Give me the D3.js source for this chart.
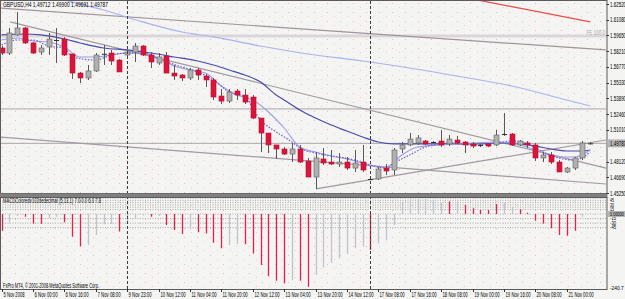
<!DOCTYPE html>
<html lang="en">
<head>
<meta charset="UTF-8">
<title>GBPUSD,H4</title>
<script src="https://d3js.org/d3.v7.min.js"></script>
<style>
  body { margin: 0; background: #f4f4f2; }
  svg { display: block; font-family: "Liberation Sans", "DejaVu Sans", sans-serif; }
</style>
</head>
<body>
<svg width="625" height="299"></svg>
<script>
// ---- data ----
const candleOpen  = [1.5850,1.5804,1.5969,1.6033,1.5896,1.5813,1.5859,1.5923,1.5932,1.5795,1.5621,1.5576,1.5640,1.5790,1.5804,1.5740,1.5786,1.5813,1.5868,1.5786,1.5713,1.5777,1.5621,1.5603,1.5576,1.5649,1.5594,1.5558,1.5411,1.5365,1.5457,1.5420,1.5402,1.5210,1.5073,1.4964,1.4927,1.4881,1.4927,1.4817,1.4671,1.4836,1.4808,1.4790,1.4808,1.4753,1.4808,1.4653,1.4653,1.4753,1.4735,1.4927,1.4964,1.4982,1.5000,1.4991,1.5000,1.4973,1.5009,1.4991,1.4973,1.4964,1.4973,1.4964,1.5064,1.5064,1.4964,1.4982,1.4964,1.4845,1.4872,1.4808,1.4717,1.4753,1.4845,1.49712];
const candleHigh  = [1.5868,1.6033,1.6179,1.6042,1.5905,1.5877,1.5987,1.6033,1.5950,1.5795,1.5631,1.5695,1.5804,1.5877,1.5832,1.5749,1.5832,1.5896,1.5877,1.5813,1.5804,1.5813,1.5695,1.5612,1.5667,1.5667,1.5612,1.5576,1.5475,1.5475,1.5475,1.5475,1.5420,1.5210,1.5073,1.4964,1.4945,1.4982,1.4964,1.4845,1.4899,1.4936,1.4918,1.4890,1.4854,1.4918,1.4964,1.4658,1.4763,1.4790,1.4936,1.4991,1.5073,1.5055,1.5009,1.5000,1.5101,1.5055,1.5046,1.5000,1.4991,1.4973,1.4982,1.5101,1.5256,1.5073,1.5009,1.5000,1.4982,1.4899,1.4899,1.4826,1.4763,1.4854,1.5000,1.49900];
const candleLow   = [1.5786,1.5786,1.5960,1.5887,1.5795,1.5786,1.5786,1.5713,1.5777,1.5567,1.5530,1.5558,1.5631,1.5695,1.5695,1.5631,1.5768,1.5722,1.5777,1.5667,1.5695,1.5621,1.5558,1.5548,1.5558,1.5558,1.5494,1.5375,1.5338,1.5347,1.5375,1.5338,1.5201,1.4899,1.4890,1.4836,1.4872,1.4808,1.4799,1.4671,1.4562,1.4781,1.4781,1.4763,1.4735,1.4717,1.4717,1.4644,1.4644,1.4690,1.4690,1.4890,1.4954,1.4964,1.4964,1.4982,1.4945,1.4954,1.4973,1.4890,1.4936,1.4945,1.4945,1.4954,1.5046,1.4954,1.4954,1.4936,1.4817,1.4808,1.4790,1.4717,1.4708,1.4735,1.4826,1.49691];
const candleClose = [1.5804,1.5987,1.6033,1.5896,1.5804,1.5850,1.5932,1.5914,1.5786,1.5621,1.5576,1.5640,1.5786,1.5797,1.5731,1.5631,1.5813,1.5868,1.5786,1.5722,1.5768,1.5621,1.5594,1.5576,1.5649,1.5603,1.5558,1.5402,1.5365,1.5448,1.5420,1.5356,1.5210,1.5073,1.4964,1.4927,1.4881,1.4927,1.4808,1.4671,1.4845,1.4799,1.4790,1.4808,1.4753,1.4799,1.4735,1.4650,1.4744,1.4726,1.4918,1.4964,1.5018,1.5028,1.4973,1.4989,1.4964,1.5018,1.4982,1.4964,1.4954,1.4954,1.4954,1.5055,1.5060,1.4964,1.5000,1.4964,1.4845,1.4872,1.4808,1.4717,1.4753,1.4845,1.4982,1.49787];

// moving averages as [bar, price]
const maSlow = [[0,1.5969],[3,1.5978],[5,1.5969],[8,1.5932],[10,1.5896],[13,1.5850],[16,1.5832],[19,1.5804],[22,1.5768],[25,1.5731],[27,1.5695],[29,1.5649],[31,1.5603],[33,1.5539],[35,1.5420],[36,1.5375],[38,1.5283],[40,1.5210],[42,1.5146],[44,1.5091],[46,1.5037],[48,1.4991],[50,1.4973],[52,1.4973],[56,1.4973],[60,1.4973],[64,1.4982],[66,1.4973],[68,1.4954],[70,1.4927],[72,1.4909],[74,1.4909],[75,1.4918]];
const maMid = [[0,1.5923],[2,1.5941],[4,1.5914],[6,1.5905],[8,1.5859],[10,1.5768],[12,1.5768],[14,1.5786],[16,1.5804],[18,1.5804],[20,1.5759],[22,1.5686],[24,1.5649],[26,1.5621],[28,1.5503],[30,1.5420],[32,1.5375],[34,1.5265],[36,1.5119],[38,1.4945],[40,1.4899],[42,1.4863],[44,1.4836],[46,1.4799],[48,1.4763],[49,1.4763],[51,1.4872],[53,1.4945],[56,1.4964],[60,1.4982],[63,1.4991],[65,1.4982],[67,1.4945],[69,1.4890],[71,1.4854],[73,1.4854],[75,1.4918]];
const maFast = [[0,1.5877],[2,1.5923],[4,1.5923],[6,1.5868],[8,1.5850],[9,1.5768],[12,1.5740],[14,1.5786],[16,1.5804],[18,1.5804],[20,1.5749],[23,1.5676],[25,1.5631],[27,1.5558],[29,1.5448],[31,1.5402],[33,1.5192],[35,1.5082],[37,1.4991],[38,1.4936],[40,1.4890],[43,1.4854],[45,1.4826],[47,1.4781],[49,1.4753],[50,1.4799],[52,1.4872],[54,1.4945],[57,1.4982],[60,1.4964],[63,1.4982],[65,1.5000],[67,1.4973],[69,1.4899],[71,1.4845],[73,1.4826],[75,1.4899]];
const maLong = [[4,1.6362],[8,1.6289],[13,1.6197],[18,1.6088],[23,1.5996],[27,1.5951],[33,1.5868],[39,1.5795],[46,1.5731],[52,1.5667],[58,1.5594],[65,1.5503],[72,1.5375],[75,1.5320]];

// drawn objects: [bar1, price1, bar2, price2]
const trendLines = [
  {pts: [-0.2, 1.6215, 77.0, 1.5832], color: "#a0949c"},
  {pts: [1.1, 1.6088, 77.0, 1.4753], color: "#a09aa0"},
  {pts: [-0.2, 1.5037, 77.0, 1.4607], color: "#a49aa4"},
  {pts: [40.06, 1.4562, 77.0, 1.5009], color: "#a09aa0"}
];
const redLine = [60.6, 1.6289, 75.0, 1.6088];
const feLevel = 1.5960;
const hLevel = 1.5293;
const bidPrice = 1.49787;
const separators = [16, 47];

const priceLabels = ["1.62520","1.61080","1.59650","1.58210","1.56770","1.55330","1.53890","1.52460","1.51010","1.49570","1.48120","1.46690","1.45250"];
const timeLabels = ["5 Nov 2008","6 Nov 00:00","6 Nov 16:00","7 Nov 08:00","9 Nov 23:00","10 Nov 12:00","11 Nov 04:00","11 Nov 20:00","12 Nov 12:00","13 Nov 04:00","13 Nov 20:00","14 Nov 12:00","17 Nov 08:00","17 Nov 16:00","18 Nov 08:00","19 Nov 00:00","19 Nov 16:00","20 Nov 08:00","21 Nov 00:00"];

const macdHist = [-55,-27,-7,-9,-31,-32,-14,-9,-27,-75,-106,-102,-69,-34,-33,-58,-27,-15,-5,-9,-7,-36,-53,-66,-50,-60,-64,-95,-113,-102,-99,-100,-130,-168,-205,-220,-229,-218,-220,-240,-201,-176,-161,-146,-132,-113,-108,-119,-97,-86,-36,40,49,49,49,46,37,41,39,30,19,13,13,33,37,22,16,4,-22,-31,-47,-69,-72,-55,-9,2];
const macdUp = "rggrrrggrrrggggrgggrgrrrgrrrrggrrrrrrgrrgggggggrgggggggggrgrrrrrggrrrrrrrrggg";
const macdLevels = [52.5, 45, 37.5, 30, 22.5, 15, -15, -30, -45];
const macdLabels = ["45", "30", "15", "-15", "-30", "-45"];

// ---- layout ----
const svg = d3.select("svg");
const plotR = 606.5, mainTop = 1, mainBot = 193, macdTop = 197, macdBot = 289;

const x = d3.scaleLinear().domain([0, 75]).range([1.5, 590.25]);
const y = d3.scaleLinear().domain([1.4525, 1.6252]).range([193, 4]);
const ym = d3.scaleLinear().domain([-240.7, 0]).range([287, 214]);

// small condensed text like the terminal font
function label(g, tx, ty, str, perChar, anchor, size) {
  return g.append("text")
    .attr("x", tx).attr("y", ty)
    .attr("font-size", size || 7)
    .attr("text-anchor", anchor || "start")
    .attr("textLength", str.length * perChar)
    .attr("lengthAdjust", "spacingAndGlyphs")
    .text(str);
}

const defs = svg.append("defs");
const pat = defs.append("pattern").attr("id", "dots")
  .attr("width", 13).attr("height", 9).attr("patternUnits", "userSpaceOnUse");
pat.append("rect").attr("x", 2).attr("y", 3).attr("width", 1).attr("height", 1).attr("fill", "#f0b4c4");
pat.append("rect").attr("x", 9).attr("y", 7).attr("width", 1).attr("height", 1).attr("fill", "#f3c6d2");

defs.append("clipPath").attr("id", "clipMain")
  .append("rect").attr("x", 1).attr("y", mainTop).attr("width", plotR - 1).attr("height", mainBot - mainTop);
defs.append("clipPath").attr("id", "clipMacd")
  .append("rect").attr("x", 1).attr("y", macdTop).attr("width", plotR - 1).attr("height", macdBot - macdTop);

svg.append("rect").attr("width", 625).attr("height", 299).attr("fill", "#f4f4f2");
svg.append("rect").attr("x", 1).attr("y", 1).attr("width", plotR - 1).attr("height", macdBot - 1).attr("fill", "url(#dots)");

// ---- main panel ----
const main = svg.append("g").attr("clip-path", "url(#clipMain)");

main.append("rect")
  .attr("x", 0).attr("width", plotR)
  .attr("y", y(feLevel) - 1.5).attr("height", 3)
  .attr("fill", "#dcd6da");

main.append("line")
  .attr("x1", 0).attr("x2", plotR)
  .attr("y1", y(hLevel)).attr("y2", y(hLevel))
  .attr("stroke", "#a8a4a8");

main.append("line")
  .attr("x1", 0).attr("x2", plotR)
  .attr("y1", y(bidPrice)).attr("y2", y(bidPrice))
  .attr("stroke", "#a8a8a8");

trendLines.forEach(t => {
  main.append("line")
    .attr("x1", x(t.pts[0])).attr("y1", y(t.pts[1]))
    .attr("x2", x(t.pts[2])).attr("y2", y(t.pts[3]))
    .attr("stroke", t.color).attr("stroke-width", 1.2);
});

main.append("line")
  .attr("x1", x(redLine[0])).attr("y1", y(redLine[1]))
  .attr("x2", x(redLine[2])).attr("y2", y(redLine[3]))
  .attr("stroke", "#f04848").attr("stroke-width", 1.2);

const maPath = d3.line().x(d => x(d[0])).y(d => y(d[1])).curve(d3.curveMonotoneX);

main.append("path").attr("d", maPath(maLong))
  .attr("fill", "none").attr("stroke", "#a9b2f0").attr("stroke-width", 1.2);
main.append("path").attr("d", maPath(maSlow))
  .attr("fill", "none").attr("stroke", "#4a4aaa").attr("stroke-width", 1.2);
main.append("path").attr("d", maPath(maMid))
  .attr("fill", "none").attr("stroke", "#9c9cec").attr("stroke-width", 1.1);
main.append("path").attr("d", maPath(maFast))
  .attr("fill", "none").attr("stroke", "#6e5ed0").attr("stroke-width", 1.2)
  .attr("stroke-dasharray", "1.5,1.5");

// candles
const candles = d3.range(candleOpen.length).map(i => ({
  i, o: candleOpen[i], h: candleHigh[i], l: candleLow[i], c: candleClose[i]
}));

const cg = main.append("g");
cg.selectAll("line.wick").data(candles).enter().append("line")
  .attr("x1", d => Math.round(x(d.i)) + 0.5).attr("x2", d => Math.round(x(d.i)) + 0.5)
  .attr("y1", d => y(d.h)).attr("y2", d => y(d.l))
  .attr("stroke", "#585858");

cg.selectAll("rect.body").data(candles).enter().append("rect")
  .attr("x", d => Math.round(x(d.i)) - 2)
  .attr("width", 5)
  .attr("y", d => y(Math.max(d.o, d.c)))
  .attr("height", d => Math.max(1, Math.abs(y(d.o) - y(d.c))))
  .attr("fill", d => Math.abs(y(d.o) - y(d.c)) < 1.5 ? "#303030" : (d.c > d.o ? "#b0b0b0" : "#dc143c"))
  .attr("stroke", d => Math.abs(y(d.o) - y(d.c)) < 1.5 ? "none" : (d.c > d.o ? "#606060" : "#b80f30"))
  .attr("stroke-width", 0.6);

// ---- macd panel ----
const mg = svg.append("g").attr("clip-path", "url(#clipMacd)");

macdLevels.forEach(v => {
  mg.append("line")
    .attr("x1", 0).attr("x2", plotR)
    .attr("y1", ym(v)).attr("y2", ym(v))
    .attr("stroke", "#a8a8a8").attr("stroke-dasharray", "1,1.5");
});
mg.append("line")
  .attr("x1", 0).attr("x2", plotR)
  .attr("y1", ym(0)).attr("y2", ym(0))
  .attr("stroke", "#b0b0b0").attr("stroke-dasharray", "1,1.5");

mg.selectAll("line.hist").data(macdHist).enter().append("line")
  .attr("x1", (d, i) => Math.round(x(i)) + 0.5)
  .attr("x2", (d, i) => Math.round(x(i)) + 0.5)
  .attr("y1", ym(0))
  .attr("y2", d => ym(d))
  .attr("stroke", (d, i) => macdUp[i] === "g" ? "#c4c2cc" : "#e4204c")
  .attr("stroke-width", 1.3);

// period separators
separators.forEach(b => {
  svg.append("line")
    .attr("x1", Math.round(x(b)) + 0.5).attr("x2", Math.round(x(b)) + 0.5)
    .attr("y1", mainTop).attr("y2", macdBot)
    .attr("stroke", "#3c3c3c").attr("stroke-dasharray", "3,2");
});

// frames
svg.append("rect").attr("x", 0.5).attr("y", 0.5).attr("width", plotR).attr("height", mainBot)
  .attr("fill", "none").attr("stroke", "#5a5a5a");
svg.append("rect").attr("x", 0).attr("y", mainBot + 0.5).attr("width", plotR + 1).attr("height", 3.5)
  .attr("fill", "#808080");
svg.append("rect").attr("x", 0.5).attr("y", macdTop + 0.5).attr("width", plotR).attr("height", macdBot - macdTop)
  .attr("fill", "none").attr("stroke", "#5a5a5a");

// ---- texts ----
const tg = svg.append("g").attr("fill", "#000");
label(tg, 3, 6.5, "GBPUSD,H4  1.49712 1.49900 1.49691 1.49787", 2.5);
label(tg, 605, 35, "FE 100.0", 2.3, "end").attr("fill", "#aaa2aa");
label(tg, 3, 202.5, "MACDColoredv102dedecimal (5,13,1) 7.0 0.0 6.0 7.8", 2.0);
label(tg, 3, 287.5, "FxPro MT4, \u00a9 2001-2008 MetaQuotes Software Corp.", 2.0);

// price axis
priceLabels.forEach(s => {
  const py = y(+s);
  if (Math.abs(py - y(bidPrice)) < 5) return;
  tg.append("line").attr("x1", plotR).attr("x2", plotR + 2.5)
    .attr("y1", Math.round(py) + 0.5).attr("y2", Math.round(py) + 0.5).attr("stroke", "#333");
  label(tg, 610, py + 2.5, s, 2.3, "start", 6.5);
});
tg.append("rect").attr("x", plotR + 1).attr("y", y(bidPrice) - 4).attr("width", 20).attr("height", 8)
  .attr("fill", "#b6b6b6");
label(tg, 610, y(bidPrice) + 2.5, bidPrice.toFixed(5), 2.3, "start", 6.5);

// macd axis
macdLabels.forEach(s => {
  const py = ym(+s);
  label(tg, 610, py + 1.7, s, 2.0, "start", 4.5);
});
tg.append("rect").attr("x", plotR + 1).attr("y", ym(0) - 3).attr("width", 20).attr("height", 6)
  .attr("fill", "#b6b6b6");
label(tg, 610, ym(0) + 1.8, "0.00000", 2.0, "start", 5);
label(tg, 610, 289.5, "-240.7", 2.3, "start", 6);

// time axis
timeLabels.forEach((s, k) => {
  const tx = Math.round(x(k * 4)) + 0.5;
  tg.append("line").attr("x1", tx).attr("x2", tx).attr("y1", macdBot).attr("y2", macdBot + 3)
    .attr("stroke", "#333");
  label(tg, tx + 1, 297, s, 2.1, "start", 6.5);
});
</script>
</body>
</html>
